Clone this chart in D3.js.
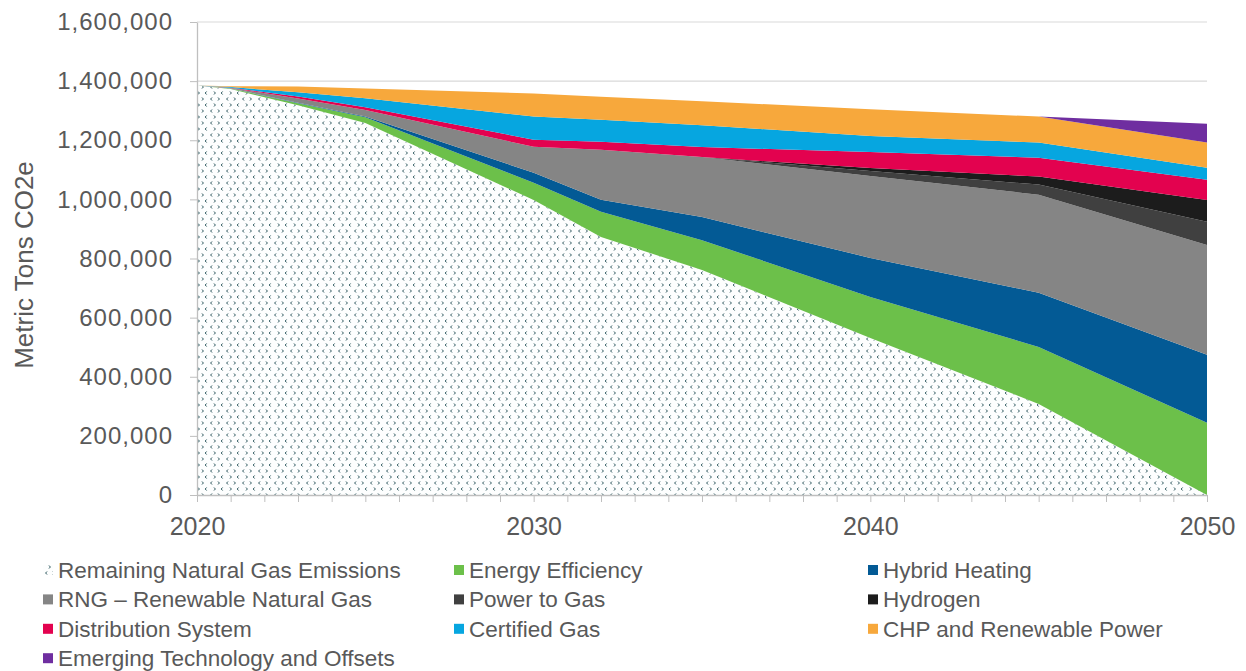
<!DOCTYPE html>
<html>
<head>
<meta charset="utf-8">
<script src="https://cdn.jsdelivr.net/npm/d3@7"></script>
<style>
  body { margin: 0; background: #fff; }
  svg { display: block; font-family: "Liberation Sans", Arial, sans-serif; }
</style>
</head>
<body>
<svg id="chart" width="1246" height="671"></svg>
<script>
// data prep (metric tons CO2e)
let years = [2020, 2021, 2023, 2025, 2030, 2032, 2035, 2040, 2045, 2050];
let remaining = [1385000, 1373000, 1318000, 1258000, 998000, 873000, 761000, 531000, 308000, 0];
let energyEfficiency = [0, 2000, 7000, 20000, 58000, 85000, 101000, 139000, 193000, 244000];
let hybridHeating = [0, 0, 2000, 2000, 34000, 41000, 78000, 132000, 183000, 230000];
let rng = [0, 2000, 14000, 22000, 88000, 169000, 203000, 277000, 332000, 372000];
let powerToGas = [0, 0, 0, 0, 0, 0, 0, 17000, 34000, 78000];
let hydrogen = [0, 0, 0, 0, 0, 0, 0, 10000, 27000, 74000];
let distribution = [0, 1000, 7000, 10000, 24000, 27000, 34000, 54000, 64000, 68000];
let certifiedGas = [0, 2000, 14000, 30000, 78000, 74000, 74000, 54000, 51000, 41000];
let chp = [0, 3000, 20000, 33000, 78000, 78000, 81000, 91000, 88000, 85000];
let emerging = [0, 0, 0, 0, 0, 0, 0, 0, 0, 64000];

let seriesNames = [
    "Remaining Natural Gas Emissions", "Energy Efficiency", "Hybrid Heating",
    "RNG – Renewable Natural Gas", "Power to Gas", "Hydrogen",
    "Distribution System", "Certified Gas", "CHP and Renewable Power",
    "Emerging Technology and Offsets"
];
let seriesValues = [remaining, energyEfficiency, hybridHeating, rng, powerToGas,
    hydrogen, distribution, certifiedGas, chp, emerging];

let yTicks = [0, 200000, 400000, 600000, 800000, 1000000, 1200000, 1400000, 1600000];
let xLabelYears = [2020, 2030, 2040, 2050];

// colors
let colors = ["url(#dots)", "#6cc04a", "#035a95", "#858585", "#404040",
    "#1c1c1c", "#e3024f", "#06a6e0", "#f7a83c", "#6f2ea0"];
let textColor = "#595959";
let axisColor = "#bfbfbf";
let gridColor = "#d9d9d9";

let svg = d3.select("#chart");
let plotLeft = 197, plotRight = 1207, plotTop = 22, plotBottom = 495;

// pattern for remaining emissions: sparse little chevrons on white
let pat = svg.append("defs").append("pattern")
    .attr("id", "dots")
    .attr("patternUnits", "userSpaceOnUse")
    .attr("width", 16)
    .attr("height", 12);
pat.append("rect").attr("width", 16).attr("height", 12).attr("fill", "#fdfefe");
pat.append("path")
    .attr("d", "M4,1.5L2.6,3L4,4.5M10,1.5L11.4,3L10,4.5M6,7.5L7.4,9L6,10.5M14.6,7.5L13.2,9L14.6,10.5")
    .attr("fill", "none")
    .attr("stroke", "#2a555b")
    .attr("stroke-width", 1);

let rows = years.map(function(yr, i) {
    let r = {year: yr};
    seriesNames.forEach(function(n, k) { r[n] = seriesValues[k][i]; });
    return r;
});

let stack = d3.stack().keys(seriesNames);
let layers = stack(rows);

let x = d3.scaleLinear().domain([2020, 2050]).range([plotLeft, plotRight]);
let y = d3.scaleLinear().domain([0, 1600000]).range([plotBottom, plotTop]);

// gridlines
svg.append("g")
    .selectAll("line")
    .data(yTicks.filter(d => d > 0))
    .enter()
    .append("line")
    .attr("x1", plotLeft)
    .attr("x2", plotRight)
    .attr("y1", d => y(d))
    .attr("y2", d => y(d))
    .style("stroke", gridColor)
    .style("stroke-width", 1.2);

let area = d3.area()
    .x(d => x(d.data.year))
    .y0(d => y(d[0]))
    .y1(d => y(d[1]));

svg.append("g")
    .selectAll("path")
    .data(layers)
    .enter()
    .append("path")
    .attr("d", area)
    .style("fill", (d, i) => colors[i]);

// y axis
let yAxis = svg.append("g")
    .attr("transform", "translate(" + plotLeft + ",0)")
    .call(d3.axisLeft(y)
        .tickValues(yTicks)
        .tickFormat(d3.format(","))
        .tickSize(7)
        .tickSizeOuter(0)
        .tickPadding(17));
yAxis.select(".domain").style("stroke", axisColor).style("stroke-width", 1.3);
yAxis.selectAll(".tick line").style("stroke", axisColor);
yAxis.selectAll("text")
    .style("font-size", "24px")
    .style("letter-spacing", "1px")
    .style("fill", textColor);

// x axis, one tick a year, labels on the decades
let xAxis = svg.append("g")
    .attr("transform", "translate(0," + plotBottom + ")")
    .call(d3.axisBottom(x)
        .tickValues(d3.range(2020, 2051))
        .tickFormat(d => xLabelYears.includes(d) ? d : "")
        .tickSize(7)
        .tickSizeOuter(0)
        .tickPadding(15));
xAxis.select(".domain").style("stroke", axisColor).style("stroke-width", 1.3);
xAxis.selectAll(".tick line").style("stroke", axisColor);
xAxis.selectAll("text")
    .style("font-size", "25px")
    .style("fill", textColor);

// axis title
svg.append("text")
    .attr("transform", "translate(33,265) rotate(-90)")
    .attr("text-anchor", "middle")
    .style("font-size", "26px")
    .style("fill", textColor)
    .text("Metric Tons CO2e");

// legend
let colX = [43, 454, 868];
let legend = svg.append("g")
    .selectAll("g")
    .data(seriesNames)
    .enter()
    .append("g")
    .attr("transform", (d, i) => "translate(" + colX[i % 3] + "," + (570 + Math.floor(i / 3) * 29.4) + ")");
legend.append("rect")
    .attr("x", 0)
    .attr("y", -5)
    .attr("width", 10)
    .attr("height", 10)
    .style("fill", (d, i) => colors[i]);
legend.append("text")
    .attr("x", 15)
    .attr("dy", "0.35em")
    .style("font-size", "22.5px")
    .style("fill", textColor)
    .text(d => d);
</script>
</body>
</html>
